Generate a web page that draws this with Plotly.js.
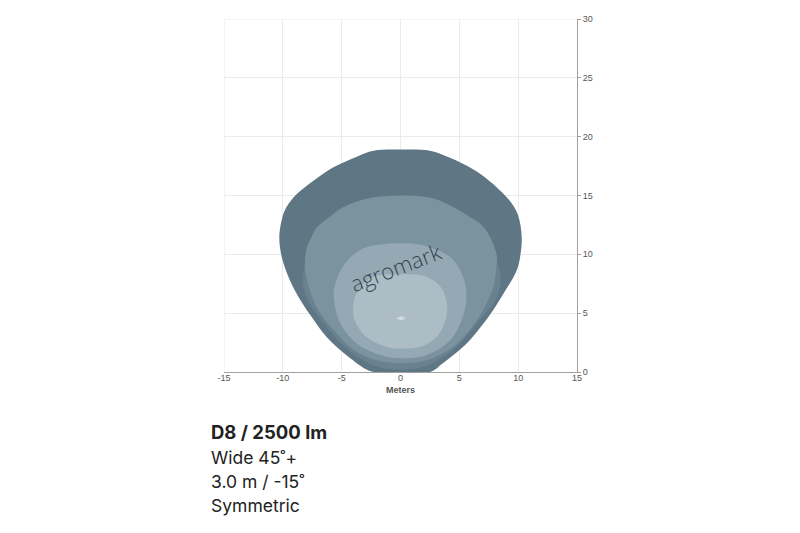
<!DOCTYPE html>
<html>
<head>
<meta charset="utf-8">
<script src="https://cdn.plot.ly/plotly-3.0.1.min.js"></script>
<style>html,body{margin:0;padding:0;background:#fff;}#chart{width:800px;height:533px;}</style>
</head>
<body>
<div id="chart"></div>
<script>
// Isolux contour levels (meters), outer to inner
const outerX = [-2.3,-4.3,-6.3,-7.5,-8.5,-9.4,-10.1,-10.3,-10.1,-9.8,-9.2,-8.5,-7.2,-5.7,-3.7,-2.3,0,2.5,4.2,6.2,7.6,8.6,9.4,10.0,10.3,10.2,9.9,8.9,7.9,6.8,5.6,3.6,2.5];
const outerY = [0,1.2,3.0,4.6,6.1,7.8,9.8,11.5,12.9,13.8,14.7,15.4,16.4,17.4,18.3,18.8,18.9,18.8,18.2,17.2,16.2,15.3,14.4,13.3,11.5,10.0,8.7,6.9,5.3,3.8,2.4,0.74,0];

const bandX = [-8.1,-8.3,-7.8,-6.8,-5.2,-3.5,-1.8,0,1.8,3.5,5.2,6.8,8.0,8.5,8.3,6.5,0,-6.5];
const bandY = [9.0,7.5,6.0,4.5,2.6,1.2,0.4,0.2,0.4,1.2,2.6,4.5,6.0,7.5,9.0,10.2,12.0,10.2];

const midX = [-2.0,-4.0,-5.7,-6.7,-7.4,-8.1,-8.0,-7.6,-7.1,-6.0,-4.9,-2.8,0,2.8,4.5,6.0,6.8,7.6,8.2,8.1,7.9,7.3,6.5,4.5,2.2,0];
const midY = [1.0,1.9,3.6,4.8,6.1,8.7,10.4,11.4,12.3,13.2,14.0,14.75,15.0,14.75,14.0,13.1,12.6,11.5,9.8,8.5,7.25,5.8,4.4,2.15,1.0,0.74];

const innerX = [-1.7,-3.7,-5.1,-5.65,-5.6,-4.9,-3.4,-1.2,0,1.2,2.5,4.2,5.2,5.6,5.3,4.2,2.2,0];
const innerY = [1.44,2.4,4.1,6.1,7.25,8.95,10.4,10.9,10.95,10.9,10.6,9.8,8.4,6.7,4.7,2.7,1.44,1.16];

const coreX = [-1.2,-2.9,-3.9,-4.0,-3.4,-2.3,0,2.2,3.4,3.9,3.9,3.1,1.7,0];
const coreY = [2.15,3.0,4.4,5.8,7.25,8.1,8.3,8.1,7.25,6.1,4.7,3.0,2.15,2.0];

const peakX = [-0.35,0.05,0.45,0.05];
const peakY = [4.55,4.75,4.55,4.38];

const levelColors = ['#5f7785','#69828f','#7b929f','#95a9b4','#acbdc6','#d0dbe0'];
const xTicks = [-15,-10,-5,0,5,10,15];
const yTicks = [0,5,10,15,20,25,30];
const infoLines = ['<b>D8 / 2500 lm</b>','Wide 45˚+','3.0 m / -15˚','Symmetric'];

function closed(a){return a.concat([a[0]]);}
const shapes = [[outerX,outerY],[bandX,bandY],[midX,midY],[innerX,innerY],[coreX,coreY],[peakX,peakY]];
const traces = shapes.map((s,i)=>({
  x: closed(s[0]), y: closed(s[1]), type:'scatter', mode:'lines',
  fill:'toself', fillcolor: levelColors[i],
  line:{width:0, shape: i===5 ? 'linear' : 'spline', smoothing:1, color: levelColors[i]},
  hoverinfo:'skip', showlegend:false
}));

const tickFont = {family:'Liberation Sans, Arial, sans-serif', size:9, color:'#555'};
const annotations = [{
  x:-0.4, y:8.9, xref:'x', yref:'y', text:'agromark', showarrow:false, textangle:-21,
  font:{family:'Open Sans, sans-serif', size:22, color:'rgba(35,45,52,0.85)', weight:300}
},{
  x:0.5, y:-0.05, xref:'paper', yref:'paper', xanchor:'center', yanchor:'middle',
  text:'<b>Meters</b>', showarrow:false, font:tickFont
}];
const lineY = [-0.170,-0.241,-0.309,-0.377];
infoLines.forEach((t,i)=>annotations.push({
  x:-0.043, y:lineY[i], xref:'paper', yref:'paper', xanchor:'left', yanchor:'middle',
  text:t, showarrow:false, font:{family:'Inter, sans-serif', size: i===0 ? 18.5 : 17.5, color:'#222'}
}));

const layout = {
  width:800, height:533,
  margin:{l:224, r:223, t:19, b:161, pad:0},
  paper_bgcolor:'#fff', plot_bgcolor:'#fff',
  showlegend:false,
  xaxis:{range:[-15,15], tickvals:xTicks, ticktext:xTicks.map(String), showgrid:true, gridcolor:'#ebebeb', gridwidth:1,
    zeroline:false, showline:true, linecolor:'#a0a0a0', linewidth:1, ticks:'', ticklabelstandoff:-3,
    tickfont:tickFont, fixedrange:true},
  yaxis:{range:[0,30], side:'right', tickvals:yTicks, ticktext:yTicks.map(String), showgrid:true, gridcolor:'#ebebeb', gridwidth:1,
    zeroline:false, showline:true, linecolor:'#a0a0a0', linewidth:1, ticks:'outside', ticklen:3, tickcolor:'#a0a0a0',
    tickfont:tickFont, fixedrange:true},
  annotations: annotations,
  shapes:[
    {type:'line', xref:'x', yref:'y', x0:-15, x1:-15, y0:0, y1:30, line:{color:'#ebebeb', width:1}},
    {type:'line', xref:'x', yref:'y', x0:-15, x1:15, y0:30, y1:30, line:{color:'#ebebeb', width:1}}
  ]
};
Plotly.newPlot('chart', traces, layout, {displayModeBar:false, staticPlot:true});
</script>
</body>
</html>
